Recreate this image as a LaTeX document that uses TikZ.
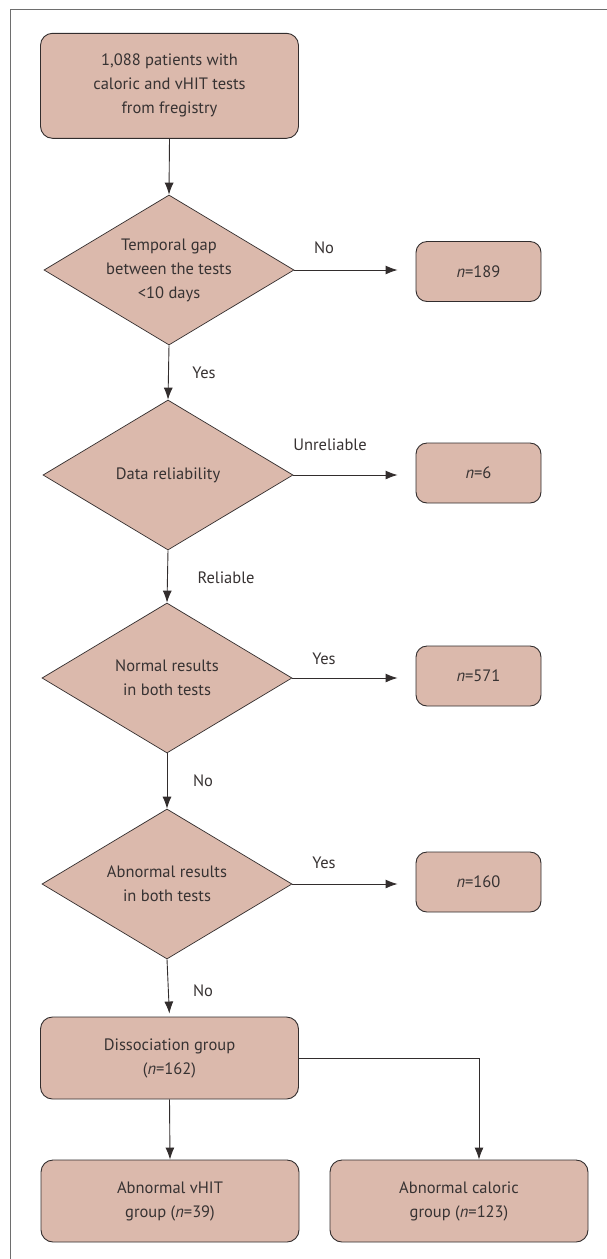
\documentclass[tikz,border=0pt]{standalone}
\usepackage{fontspec}
\setmainfont{PT Sans}
\usetikzlibrary{shapes.geometric,arrows.meta,calc}
\definecolor{boxfill}{RGB}{219,185,172}
\definecolor{txt}{RGB}{55,50,50}
\definecolor{edge}{RGB}{50,45,45}
\definecolor{framec}{RGB}{110,110,110}
\tikzset{
  every node/.style={text=txt, font=\fontsize{16.5}{24}\selectfont},
  rbox/.style={draw=edge, line width=0.9pt, fill=boxfill, rounded corners=12pt, align=center, inner sep=0pt},
  smallbox/.style={rbox, minimum width=125pt, minimum height=60pt, rounded corners=11pt},
  bigbox/.style={rbox, minimum width=258pt, minimum height=82pt},
  dec/.style={diamond, shape aspect=1.667, draw=edge, line width=0.7pt, fill=boxfill, align=center, inner sep=0pt, minimum width=250pt, minimum height=150pt},
  lbl/.style={inner sep=0pt},
  arr/.style={draw=edge, line width=0.9pt, -{Latex[length=12pt,width=9pt]}},
}
\begin{document}
\begin{tikzpicture}[x=1pt,y=-1pt]
\useasboundingbox (0,0) rectangle (606,1259);
\draw[framec, line width=1.3pt] (10.8,1260) -- (10.8,9.3) -- (607,9.3);

\node[rbox, minimum width=258pt, minimum height=105pt] (top) at (169.5,85.8) {1,088 patients with\\caloric and vHIT tests\\from fregistry};

\node[dec] (d1) at (169,270) {Temporal gap\\between the tests\\<10 days};
\node[dec] (d2) at (168,475) {Data reliability};
\node[dec] (d3) at (167,678) {Normal results\\in both tests};
\node[dec] (d4) at (167,884) {Abnormal results\\in both tests};

\node[smallbox] (r1) at (478.5,271.5) {\textit{n}=189};
\node[smallbox] (r2) at (478.5,473) {\textit{n}=6};
\node[smallbox] (r3) at (478.5,676) {\textit{n}=571};
\node[smallbox] (r4) at (478.5,882) {\textit{n}=160};

\node[bigbox] (diss) at (169.5,1058) {Dissociation group\\(\textit{n}=162)};
\node[bigbox] (bl) at (170,1201) {Abnormal vHIT\\group (\textit{n}=39)};
\node[bigbox] (br) at (459,1201) {Abnormal caloric\\group (\textit{n}=123)};

\draw[arr] (top.south) -- (d1.north);
\draw[arr] (d1.south) -- (d2.north);
\draw[arr] (d2.south) -- (d3.north);
\draw[arr] (d3.south) -- (d4.north);
\draw[arr, shorten >=3pt] (d4.south) -- (diss.north);

\draw[arr, shorten >=18pt] (d1.east) -- (d1.east -| r1.west);
\draw[arr, shorten >=18pt] (d2.east) -- (d2.east -| r2.west);
\draw[arr, shorten >=18pt] (d3.east) -- (d3.east -| r3.west);
\draw[arr, shorten >=18pt] (d4.east) -- (d4.east -| r4.west);

\draw[arr] (diss.south) -- (bl.north);
\draw[arr] (diss.east) -| ([xshift=20pt]br.north);

\node[lbl] (l1) at (324,248) {No};
\node[lbl] (l2) at (204,373) {Yes};
\node[lbl] (l3) at (330,445) {Unreliable};
\node[lbl] (l4) at (226,578) {Reliable};
\node[lbl] (l5) at (324,659) {Yes};
\node[lbl] (l6) at (203,781) {No};
\node[lbl] (l7) at (324,863) {Yes};
\node[lbl] (l8) at (203,991) {No};
\end{tikzpicture}
\end{document}
